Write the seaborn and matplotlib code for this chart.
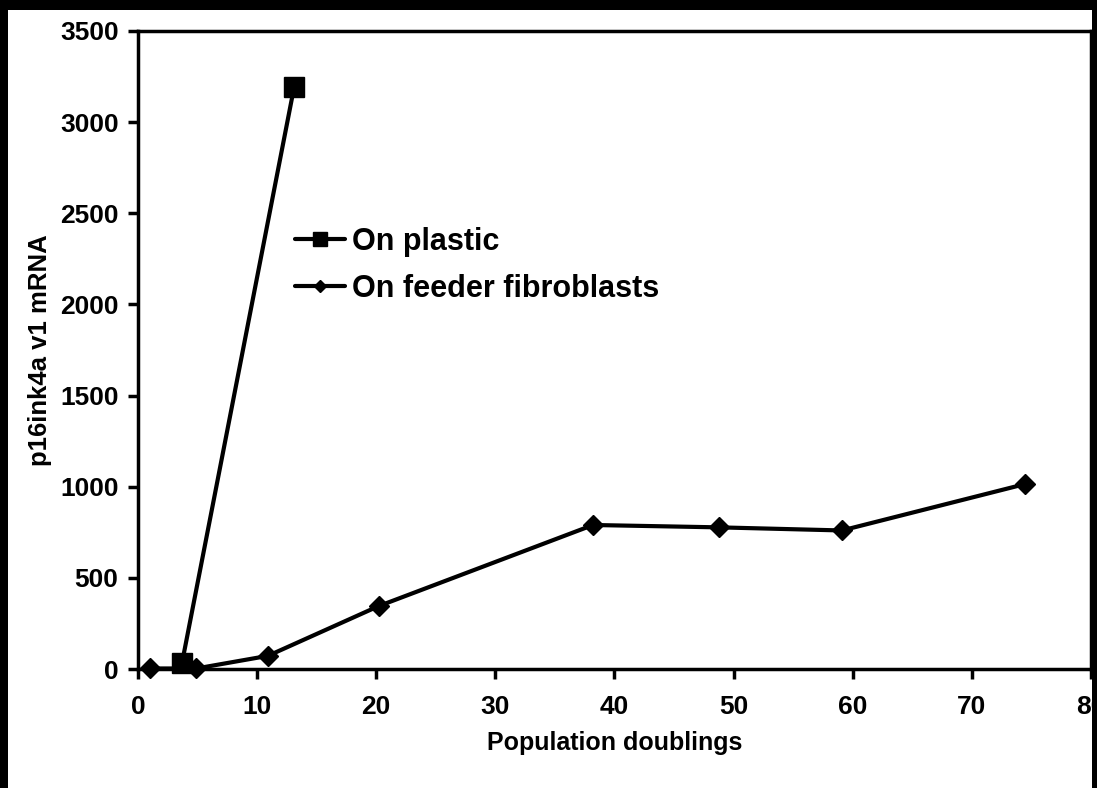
import matplotlib
matplotlib.use("Agg")
import matplotlib.pyplot as plt
from matplotlib.patches import Rectangle
import seaborn as sns
import pandas as pd

# values
plastic_doublings = [3.7, 13.1]
plastic_mrna = [35, 3190]
feeder_doublings = [1.0, 4.9, 10.9, 20.2, 38.2, 48.8, 59.1, 74.5]
feeder_mrna = [3, 3, 72, 345, 790, 777, 760, 1015]
x_ticks = [0, 10, 20, 30, 40, 50, 60, 70, 80]
y_ticks = [0, 500, 1000, 1500, 2000, 2500, 3000, 3500]

df_plastic = pd.DataFrame({"doublings": plastic_doublings, "mrna": plastic_mrna})
df_feeder = pd.DataFrame({"doublings": feeder_doublings, "mrna": feeder_mrna})

sns.set_style("white")
plt.rcParams["font.family"] = ["Liberation Sans", "DejaVu Sans"]
plt.rcParams["font.weight"] = "bold"
plt.rcParams["text.color"] = "black"
plt.rcParams["axes.labelcolor"] = "black"
plt.rcParams["xtick.color"] = "black"
plt.rcParams["ytick.color"] = "black"

fig = plt.figure(figsize=(10.97, 7.88), dpi=100)
ax = fig.add_axes([0.1258, 0.151, 0.8687, 0.8097])

sns.lineplot(data=df_feeder, x="doublings", y="mrna", ax=ax, color="black",
             marker="D", markersize=10, markeredgewidth=1, markeredgecolor="black",
             linewidth=3, label="On feeder fibroblasts", sort=False,
             estimator=None, clip_on=False)
sns.lineplot(data=df_plastic, x="doublings", y="mrna", ax=ax, color="black",
             marker="s", markersize=15, markeredgewidth=1, markeredgecolor="black",
             linewidth=3, label="On plastic", sort=False,
             estimator=None, clip_on=False)

ax.set_xlim(0, 80)
ax.set_ylim(0, 3500)
ax.set_xticks(x_ticks)
ax.set_yticks(y_ticks)
ax.tick_params(axis="both", which="major", direction="out", length=7, width=2.5,
               labelsize=19, colors="black", left=True, bottom=True)
ax.tick_params(axis="x", pad=12)
ax.tick_params(axis="y", pad=7)
for lab in ax.get_xticklabels() + ax.get_yticklabels():
    lab.set_fontweight("bold")

for spine in ax.spines.values():
    spine.set_visible(True)
    spine.set_linewidth(2.5)
    spine.set_color("black")

ax.set_xlabel("Population doublings", fontsize=18, fontweight="bold", labelpad=8)
ax.set_ylabel("p16ink4a v1 mRNA", fontsize=18.5, fontweight="bold", labelpad=6)

handles, labels = ax.get_legend_handles_labels()
leg = ax.legend(handles[::-1], labels[::-1], loc="center left",
                bbox_to_anchor=(0.1647, 0.6324), frameon=False,
                fontsize=22, handlelength=1.65, handletextpad=0.23,
                labelspacing=0.55, borderpad=0, borderaxespad=0, markerscale=0.65)
for t in leg.get_texts():
    t.set_fontweight("bold")
    t.set_color("black")

# black scan border round the picture
for x0, y0, w, h in [(0, 1 - 10 / 788, 1, 10 / 788), (0, 0, 8 / 1097, 1),
                     (1092 / 1097, 0, 5 / 1097, 1)]:
    fig.add_artist(Rectangle((x0, y0), w, h, transform=fig.transFigure,
                             facecolor="black", edgecolor="none", zorder=100))

fig.savefig("out.png", dpi=100, facecolor="white")
